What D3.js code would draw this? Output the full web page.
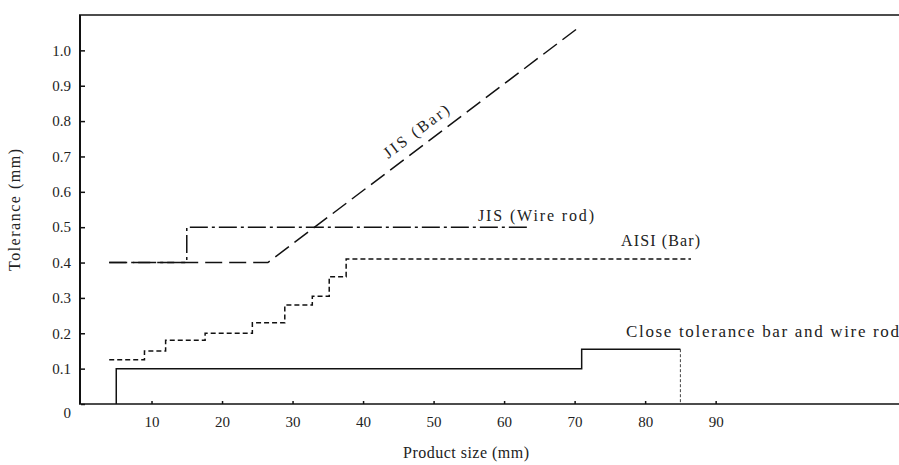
<!DOCTYPE html>
<html>
<head>
<meta charset="utf-8">
<script src="https://cdn.jsdelivr.net/npm/d3@7"></script>
<style>
  body { margin: 0; background: #fff; }
  svg text { font-family: "Liberation Serif", "DejaVu Serif", serif; fill: #222; }
</style>
</head>
<body>
<svg id="chart" width="899" height="465"></svg>
<script>
// Tolerance curves (product size in mm, tolerance in mm).
const jisBarX = [4, 26.5, 70.6];
const jisBarY = [0.4, 0.4, 1.065];

const jisWireX = [4, 15, 15, 63.5];
const jisWireY = [0.4, 0.4, 0.5, 0.5];

const aisiX = [4, 9, 12, 17.6, 24.3, 28.9, 32.8, 35.2, 37.6, 86.5];
const aisiY = [0.125, 0.15, 0.18, 0.2, 0.23, 0.28, 0.305, 0.36, 0.41, 0.41];

const closeX = [5, 5, 71, 85];
const closeY = [0, 0.1, 0.155, 0.155];

const xTicks = [10, 20, 30, 40, 50, 60, 70, 80, 90];
const yTicks = [0, 0.1, 0.2, 0.3, 0.4, 0.5, 0.6, 0.7, 0.8, 0.9, 1.0];

const svg = d3.select("#chart");
const plotLeft = 81, plotRight = 899, plotTop = 15, plotBottom = 404;

const x = d3.scaleLinear().domain([0, 116]).range([plotLeft, plotRight]);
const y = d3.scaleLinear().domain([0, 1.1]).range([plotBottom, plotTop]);

const zip = (xs, ys) => xs.map((v, i) => [v, ys[i]]);
const line = d3.line().x(d => x(d[0])).y(d => y(d[1]));
const stepLine = d3.line().x(d => x(d[0])).y(d => y(d[1])).curve(d3.curveStepAfter);

// Frame: left axis, bottom axis, top rule.
svg.append("line").attr("x1", plotLeft - 1).attr("x2", plotLeft - 1).attr("y1", plotTop).attr("y2", plotBottom)
  .attr("stroke", "#111").attr("stroke-width", 2);
svg.append("line").attr("x1", plotLeft - 2).attr("x2", plotRight).attr("y1", plotBottom).attr("y2", plotBottom)
  .attr("stroke", "#111").attr("stroke-width", 1.5);
svg.append("line").attr("x1", plotLeft - 2).attr("x2", plotRight).attr("y1", plotTop).attr("y2", plotTop)
  .attr("stroke", "#111").attr("stroke-width", 1.5);

// Axes with inward ticks.
const yAxis = svg.append("g").attr("transform", `translate(${plotLeft},0)`)
  .call(d3.axisRight(y).tickValues(yTicks).tickSize(4)
    .tickFormat(d => d === 0 ? "0" : d3.format(".1f")(d)));
yAxis.select(".domain").remove();
yAxis.selectAll("line").attr("stroke", "#111").attr("stroke-width", 1.5);
yAxis.selectAll("text").attr("x", -10).attr("text-anchor", "end")
  .style("font-size", "15px").attr("dy", "0.32em");
yAxis.selectAll(".tick").filter(d => d === 0).select("text").attr("dy", "0.9em");

const xAxis = svg.append("g").attr("transform", `translate(0,${plotBottom})`)
  .call(d3.axisTop(x).tickValues(xTicks).tickSize(3));
xAxis.select(".domain").remove();
xAxis.selectAll("line").attr("stroke", "#111").attr("stroke-width", 1.5);
xAxis.selectAll("text").attr("y", 23).attr("dy", "0").style("font-size", "15px");

// Axis titles.
svg.append("text").attr("x", 466).attr("y", 458).attr("text-anchor", "middle")
  .style("font-size", "16px").attr("textLength", 126).text("Product size (mm)");
svg.append("text").attr("transform", "translate(20,210) rotate(-90)").attr("text-anchor", "middle")
  .style("font-size", "16px").attr("textLength", 122).text("Tolerance (mm)");

// Curves.
svg.append("path").attr("d", line(zip(jisBarX, jisBarY)))
  .attr("fill", "none").attr("stroke", "#111").attr("stroke-width", 1.5)
  .attr("stroke-dasharray", "17,7");
svg.append("path").attr("d", line(zip(jisWireX, jisWireY)))
  .attr("fill", "none").attr("stroke", "#111").attr("stroke-width", 1.5)
  .attr("stroke-dasharray", "18,4,3,4");
svg.append("path").attr("d", stepLine(zip(aisiX, aisiY)))
  .attr("fill", "none").attr("stroke", "#111").attr("stroke-width", 1.5)
  .attr("stroke-dasharray", "5,3");
svg.append("path").attr("d", stepLine(zip(closeX, closeY)))
  .attr("fill", "none").attr("stroke", "#111").attr("stroke-width", 1.5);
// Dotted drop at the end of the close tolerance band.
const lastX = closeX[closeX.length - 1], lastY = closeY[closeY.length - 1];
svg.append("line").attr("x1", x(lastX)).attr("x2", x(lastX)).attr("y1", y(lastY)).attr("y2", y(0))
  .attr("stroke", "#444").attr("stroke-width", 1).attr("stroke-dasharray", "3,2");

// Curve labels.
const slope = (y(jisBarY[2]) - y(jisBarY[1])) / (x(jisBarX[2]) - x(jisBarX[1]));
const angle = Math.atan(slope) * 180 / Math.PI;
svg.append("text").attr("transform", `translate(416,131) rotate(${angle})`).attr("text-anchor", "middle")
  .attr("dy", "0.35em").style("font-size", "16px").attr("textLength", 78).text("JIS (Bar)");
svg.append("text").attr("x", 478).attr("y", 221).style("font-size", "16px")
  .attr("textLength", 116).text("JIS (Wire rod)");
svg.append("text").attr("x", 621).attr("y", 246).style("font-size", "16px")
  .attr("textLength", 79).text("AISI (Bar)");
svg.append("text").attr("x", 626).attr("y", 337).style("font-size", "17px")
  .attr("textLength", 273).text("Close tolerance bar and wire rod");
</script>
</body>
</html>
